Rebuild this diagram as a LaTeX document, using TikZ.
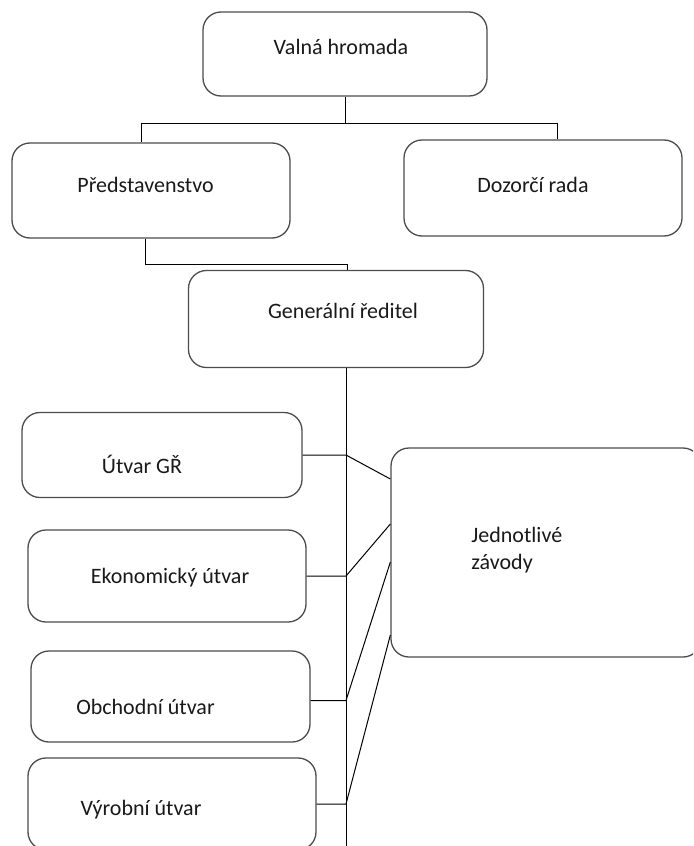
\documentclass[tikz,border=0pt]{standalone}
\usepackage{fontspec}
\setmainfont{Carlito}
\begin{document}
\begin{tikzpicture}[x=0.5pt,y=-0.5pt,
% Styl obdélníků
blok/.style={rectangle, rounded corners=9pt, inner sep=0pt, draw=black!70, line width=0.65pt},
% Styl popisků
popis/.style={inner sep=0pt, font=\fontsize{11}{13.5}\selectfont, text=black!90},
% Styl spojnic
spoj/.style={black, line width=0.5pt},
]
\useasboundingbox (0,0) rectangle (693,846);
\clip (0,0) rectangle (693,846);
% Obdélníky
\node (vh) at (345,54) [blok, minimum width=142pt, minimum height=42pt]{};
\node (pr) at (151,190.5) [blok, minimum width=139pt, minimum height=47.5pt]{};
\node (dr) at (543,188) [blok, minimum width=139pt, minimum height=48pt]{};
\node (gr) at (336,319) [blok, minimum width=147.5pt, minimum height=48.5pt]{};
\node (ugr) at (162,455) [blok, minimum width=140pt, minimum height=42.5pt]{};
\node (eko) at (167,576) [blok, minimum width=139pt, minimum height=46pt]{};
\node (obch) at (170.5,696.5) [blok, minimum width=139.5pt, minimum height=45.5pt]{};
\node (vyr) at (172,804) [blok, minimum width=144pt, minimum height=46pt]{};
\node (zav) at (546,552.5) [blok, minimum width=155pt, minimum height=104.5pt]{};

% Popisky
\node (vh-t) at (341,47) [popis]{Valná hromada};
\node (pr-t) at (145.5,185) [popis]{Představenstvo};
\node (dr-t) at (533,185) [popis]{Dozorčí rada};
\node (gr-t) at (343,311) [popis]{Generální ředitel};
\node (ugr-t) at (142,464) [popis]{Útvar GŘ};
\node (eko-t) at (170,578) [popis]{Ekonomický útvar};
\node (obch-t) at (145.5,707) [popis]{Obchodní útvar};
\node (vyr-t) at (141,810) [popis]{Výrobní útvar};
\node (zav-t) at (471,550) [popis, anchor=west, align=left]{Jednotlivé\\závody};

% Spojnice
\coordinate (kmen) at (346,850);
\draw[spoj] (vh.south) -- ++(0,27) -| ([xshift=-5pt]pr.north);
\draw[spoj] (vh.south) ++(0,27) -| ([xshift=7pt]dr.north);
\draw[spoj] ([xshift=-3pt]pr.south) -- ++(0,26) -| ([xshift=5.5pt]gr.north);
\draw[spoj] ([xshift=5pt]gr.south) -- (kmen);
\draw[spoj] (ugr.east) -- (ugr.east -| kmen) -- ([yshift=36.75pt]zav.west);
\draw[spoj] (eko.east) -- (eko.east -| kmen) -- ([yshift=14.25pt]zav.west);
\draw[spoj] ([yshift=-2pt]obch.east) -- ([yshift=-2pt]obch.east -| kmen) -- ([yshift=-4.75pt]zav.west);
\draw[spoj] (vyr.east) -- (vyr.east -| kmen) -- ([yshift=-41.25pt]zav.west);
\end{tikzpicture}
\end{document}
